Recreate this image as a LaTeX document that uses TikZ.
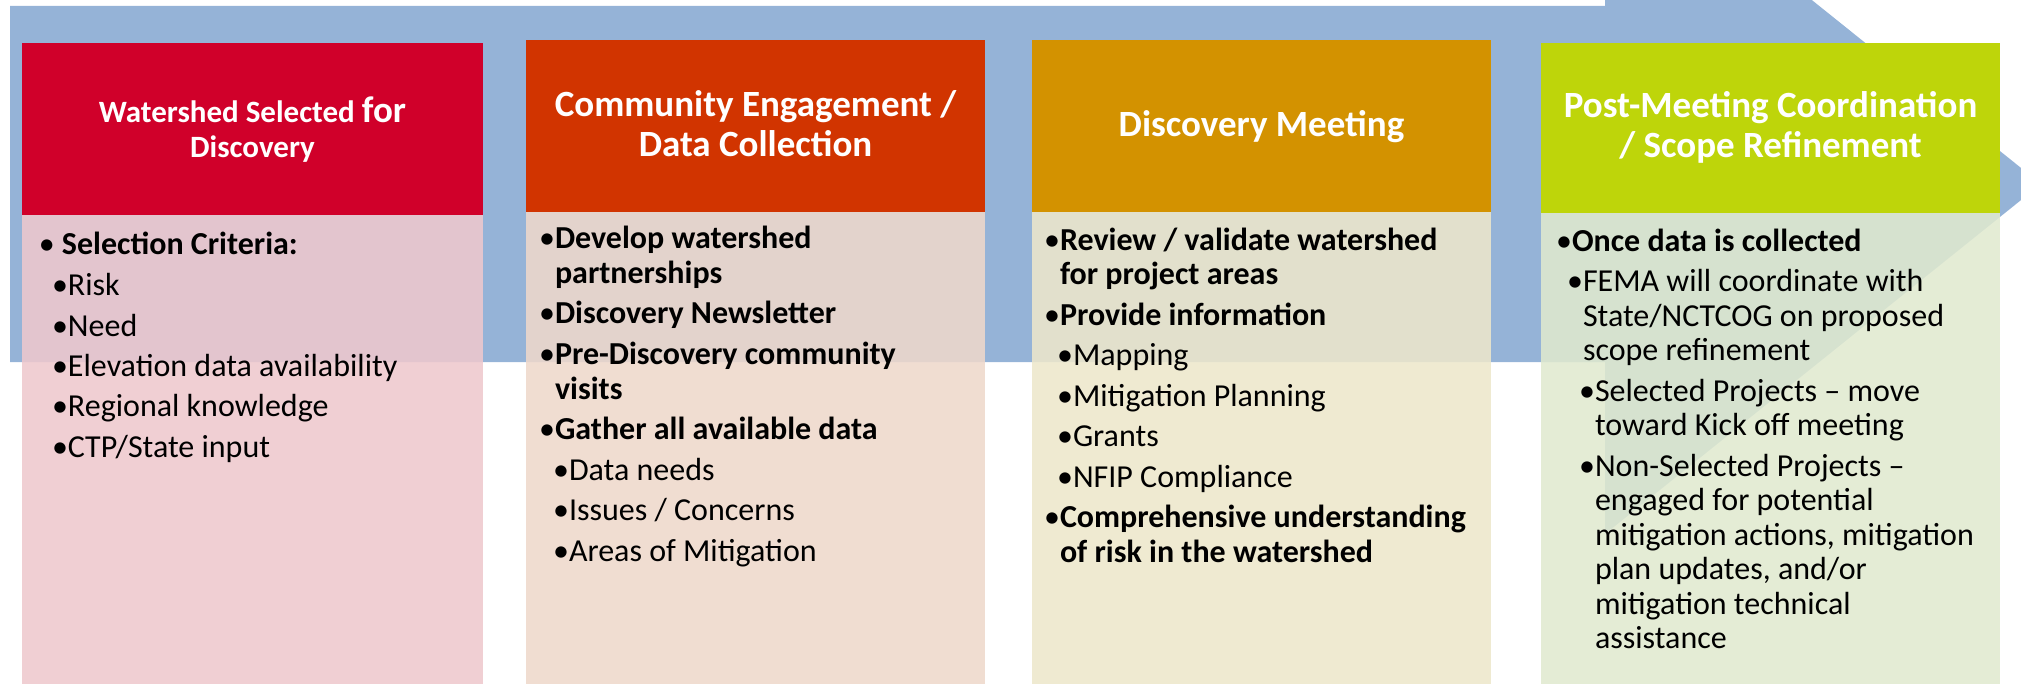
\documentclass[tikz,border=0pt]{standalone}
\usepackage{fontspec}
\setmainfont{Carlito}
\newdimen\px \px=0.5pt
\definecolor{band}{RGB}{149,179,215}
\definecolor{hA}{RGB}{208,0,42}
\definecolor{hB}{RGB}{209,52,0}
\definecolor{hC}{RGB}{211,146,0}
\definecolor{hD}{RGB}{190,213,10}
\definecolor{bA}{RGB}{238,200,205}
\definecolor{bB}{RGB}{238,216,203}
\definecolor{bC}{RGB}{237,231,203}
\definecolor{bD}{RGB}{224,233,207}
\newcommand\hdrtext[2]{\vtop{\hsize=440\px\parindent=0pt\centering\bfseries\fontsize{18.5pt}{#1}\selectfont #2}}
\newcommand\bodytext[1]{\vtop{\hsize=900pt\parindent=0pt\parskip=3pt\rightskip=0pt plus 1fil\fontsize{16pt}{17.25pt}\selectfont #1}}
\newcommand\itm[2]{\par\leftskip=#1\px\relax\noindent\llap{•}#2}
\newcommand\itmsp[2]{\par\leftskip=#1\px\relax\noindent\llap{•\ }#2}
\begin{document}
\begin{tikzpicture}[x=0.5pt,y=-0.5pt,
  txt/.style={inner sep=0pt,outer sep=0pt},
  hdrlabel/.style={txt,anchor=base,text=white},
  bodylabel/.style={txt,anchor=base west,text=black},
  bodyfill/.style={fill opacity=0.88}]
\clip (0,0) rectangle (2021,684);
% background arrow
\fill[band] (10,6) -- (1605,6) -- (1605,-166) -- (2041,184) -- (1605,534) -- (1605,362) -- (10,362) -- cycle;
% boxes
\fill[hA] (22,43) rectangle (483,215);
\fill[bA,bodyfill] (22,215) rectangle (483,684);
\fill[hB] (526,40) rectangle (985,212);
\fill[bB,bodyfill] (526,212) rectangle (985,684);
\fill[hC] (1032,40) rectangle (1491,212);
\fill[bC,bodyfill] (1032,212) rectangle (1491,684);
\fill[hD] (1541,43) rectangle (2000,213);
\fill[bD,bodyfill] (1541,213) rectangle (2000,684);
% headers
\node[hdrlabel] (h1) at (252.5,123) {\hdrtext{17.5pt}{\fontsize{15.5pt}{17.5pt}\selectfont Watershed Selected {\fontsize{18.5pt}{17.5pt}\selectfont for}\\ Discovery}};
\node[hdrlabel] (h2) at (755.5,117) {\hdrtext{20pt}{Community Engagement /\\ Data Collection}};
\node[hdrlabel] (h3) at (1261.5,137) {\hdrtext{20pt}{Discovery Meeting}};
\node[hdrlabel] (h4) at (1770.5,118) {\hdrtext{20pt}{Post-Meeting Coordination\\ / Scope Refinement}};
% bodies
\node[bodylabel] (b1) at (22,255) {\bodytext{%
  \itmsp{40}{\textbf{Selection Criteria:}}%
  \itm{46}{Risk}%
  \itm{46}{Need}%
  \itm{46}{Elevation data availability}%
  \itm{46}{Regional knowledge}%
  \itm{46}{CTP/State input}}};
\node[bodylabel] (b2) at (526,249) {\bodytext{%
  \itm{29}{\textbf{Develop watershed\newline partnerships}}%
  \itm{29}{\textbf{Discovery Newsletter}}%
  \itm{29}{\textbf{Pre-Discovery community\newline visits}}%
  \itm{29}{\textbf{Gather all available data}}%
  \itm{43}{Data needs}%
  \itm{43}{Issues / Concerns}%
  \itm{43}{Areas of Mitigation}}};
\node[bodylabel] (b3) at (1032,250) {\bodytext{%
  \itm{28}{\textbf{Review / validate watershed\newline for project areas}}%
  \itm{28}{\textbf{Provide information}}%
  \itm{41}{Mapping}%
  \itm{41}{Mitigation Planning}%
  \itm{41}{Grants}%
  \itm{41}{NFIP Compliance}%
  \itm{28}{\textbf{Comprehensive understanding\newline of risk in the watershed}}}};
\node[bodylabel] (b4) at (1541,251) {\bodytext{%
  \itm{31}{\textbf{Once data is collected}}%
  \itm{42}{FEMA will coordinate with\newline State/NCTCOG on proposed\newline scope refinement}%
  \itm{54}{Selected Projects – move\newline toward Kick off meeting}%
  \itm{54}{Non-Selected Projects –\newline engaged for potential\newline mitigation actions, mitigation\newline plan updates, and/or\newline mitigation technical\newline assistance}}};
\end{tikzpicture}
\end{document}
